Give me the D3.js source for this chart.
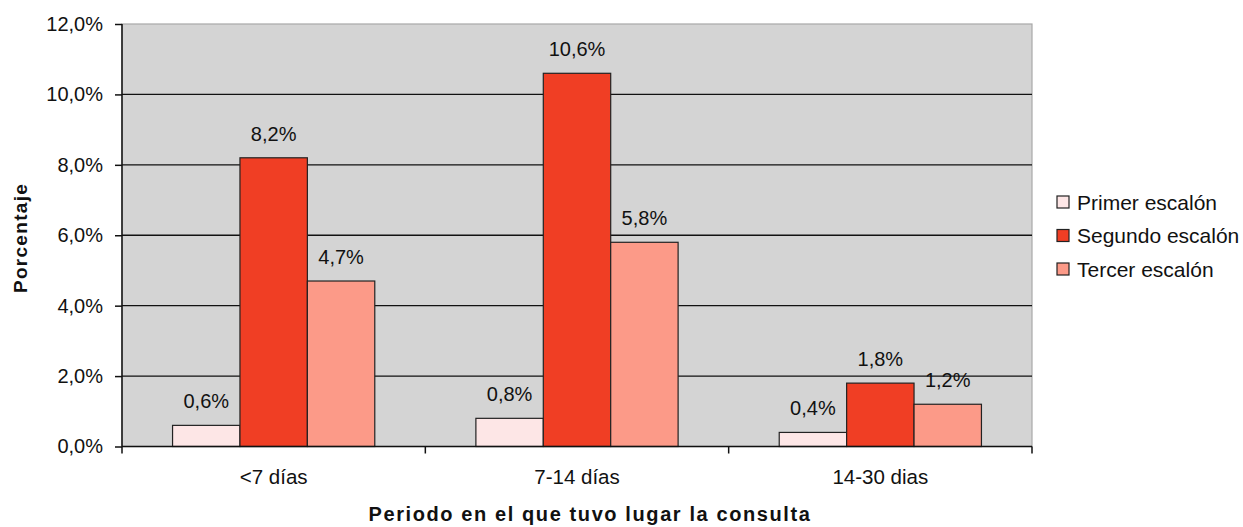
<!DOCTYPE html>
<html>
<head>
<meta charset="utf-8">
<script src="https://cdn.jsdelivr.net/npm/d3@7"></script>
<style>
  html, body { margin: 0; padding: 0; background: #fff; }
  svg { display: block; font-family: "Liberation Sans", Arial, sans-serif; }
</style>
</head>
<body>
<svg id="chart" width="1243" height="527"></svg>
<script>
// Periods of consultation and the three escalation levels
const categories = ["<7 días", "7-14 días", "14-30 dias"];
const seriesNames = ["Primer escalón", "Segundo escalón", "Tercer escalón"];
const primer = [0.6, 0.8, 0.4];
const segundo = [8.2, 10.6, 1.8];
const tercer = [4.7, 5.8, 1.2];
const yTicks = [0, 2, 4, 6, 8, 10, 12];
const colors = ["#fde6e6", "#f03e24", "#fc9a88"];

const series = [primer, segundo, tercer];

const svg = d3.select("#chart");
const margin = { left: 122, top: 24, right: 1032, bottom: 446.5 };

const x = d3.scaleBand().domain(categories).range([margin.left, margin.right]).padding(0);
const x1 = d3.scaleBand().domain(seriesNames).range([0, x.bandwidth()]).paddingOuter(0.75).paddingInner(0);
const y = d3.scaleLinear().domain([0, 12]).range([margin.bottom, margin.top]);

const fmt = v => d3.format(".1f")(v).replace(".", ",") + "%";

// plot background
svg.append("rect")
  .attr("x", margin.left).attr("y", margin.top)
  .attr("width", margin.right - margin.left).attr("height", margin.bottom - margin.top)
  .attr("fill", "#d4d4d4").attr("stroke", "#a8a8a8").attr("stroke-width", 1.2);

// horizontal gridlines
svg.append("g").selectAll("line")
  .data(yTicks.filter(t => t > 0 && t < 12))
  .join("line")
  .attr("x1", margin.left).attr("x2", margin.right)
  .attr("y1", d => y(d)).attr("y2", d => y(d))
  .attr("stroke", "#111").attr("stroke-width", 1.3);

// bars
const groups = svg.append("g").selectAll("g")
  .data(categories)
  .join("g")
  .attr("transform", d => `translate(${x(d)},0)`);

groups.selectAll("rect")
  .data((d, i) => seriesNames.map((s, j) => ({ s, v: series[j][i], c: colors[j] })))
  .join("rect")
  .attr("x", d => x1(d.s))
  .attr("y", d => y(d.v))
  .attr("width", x1.bandwidth())
  .attr("height", d => y(0) - y(d.v))
  .attr("fill", d => d.c)
  .attr("stroke", "#222").attr("stroke-width", 1.2);

groups.selectAll("text")
  .data((d, i) => seriesNames.map((s, j) => ({ s, v: series[j][i] })))
  .join("text")
  .attr("x", d => x1(d.s) + x1.bandwidth() / 2)
  .attr("y", d => y(d.v) - 17)
  .attr("text-anchor", "middle")
  .attr("font-size", 20)
  .attr("fill", "#111")
  .text(d => fmt(d.v));

// y axis
const yAxis = svg.append("g")
  .attr("transform", `translate(${margin.left},0)`)
  .call(d3.axisLeft(y).tickValues(yTicks).tickSize(7).tickPadding(12).tickFormat(d => fmt(d)));
yAxis.select(".domain").attr("stroke", "#111").attr("stroke-width", 1.5).attr("d", `M0,${margin.top}V${margin.bottom}`);
yAxis.selectAll(".tick line").attr("stroke", "#111").attr("stroke-width", 1.5);
yAxis.selectAll(".tick text").attr("font-size", 20).attr("fill", "#111").attr("font-family", "Liberation Sans, Arial, sans-serif");

// x axis
const xAxisG = svg.append("g").attr("transform", `translate(0,${margin.bottom})`);
xAxisG.append("line")
  .attr("x1", margin.left).attr("x2", margin.right)
  .attr("stroke", "#111").attr("stroke-width", 1.5);
const bounds = categories.map(c => x(c)).concat([x(categories[categories.length - 1]) + x.bandwidth()]);
xAxisG.selectAll("line.tk")
  .data(bounds)
  .join("line").attr("class", "tk")
  .attr("x1", d => d).attr("x2", d => d)
  .attr("y1", 0).attr("y2", 7)
  .attr("stroke", "#111").attr("stroke-width", 1.5);
xAxisG.selectAll("text")
  .data(categories)
  .join("text")
  .attr("x", d => x(d) + x.bandwidth() / 2)
  .attr("y", 37.5)
  .attr("text-anchor", "middle")
  .attr("font-size", 20.5)
  .attr("fill", "#111")
  .text(d => d);

// axis titles
svg.append("text")
  .attr("x", 590)
  .attr("y", 521)
  .attr("text-anchor", "middle")
  .attr("font-size", 20)
  .attr("font-weight", "bold")
  .attr("letter-spacing", 1.6)
  .attr("fill", "#111")
  .text("Periodo en el que tuvo lugar la consulta");

svg.append("text")
  .attr("transform", `translate(27,238) rotate(-90)`)
  .attr("text-anchor", "middle")
  .attr("font-size", 19)
  .attr("font-weight", "bold")
  .attr("letter-spacing", 1.3)
  .attr("fill", "#111")
  .text("Porcentaje");

// legend
const legend = svg.append("g").attr("transform", "translate(1057,202)");
const rows = legend.selectAll("g")
  .data(seriesNames)
  .join("g")
  .attr("transform", (d, i) => `translate(0,${i * 33.5})`);
rows.append("rect")
  .attr("x", 0).attr("y", -6)
  .attr("width", 12).attr("height", 12)
  .attr("fill", (d, i) => colors[i])
  .attr("stroke", "#222").attr("stroke-width", 1.2);
rows.append("text")
  .attr("x", 20).attr("y", 7.5)
  .attr("font-size", 21)
  .attr("fill", "#111")
  .text(d => d);
</script>
</body>
</html>
